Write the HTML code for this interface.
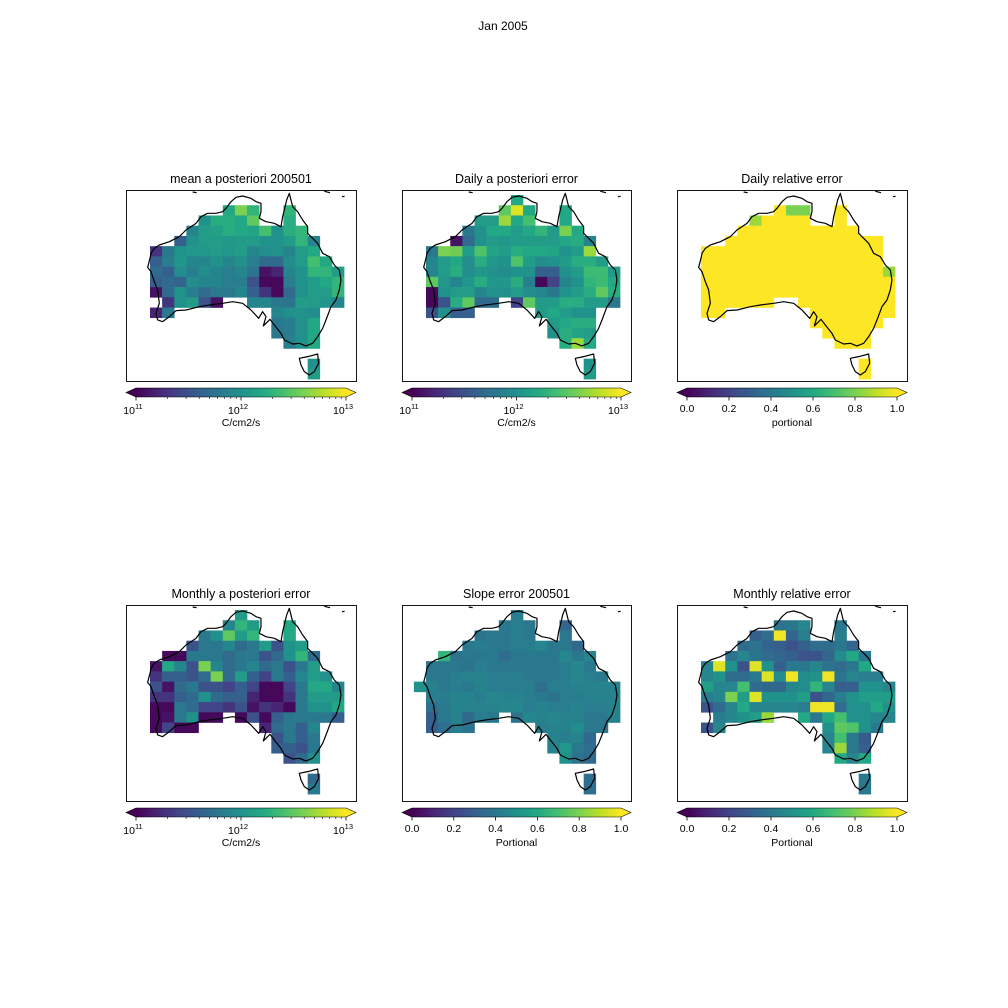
<!DOCTYPE html>
<html><head><meta charset="utf-8">
<style>
html,body{margin:0;padding:0;background:#fff;}
svg{display:block;font-family:"Liberation Sans","DejaVu Sans",sans-serif;}
</style></head>
<body>
<svg id="fig" width="1008" height="1008" viewBox="0 0 1008 1008" xmlns="http://www.w3.org/2000/svg">
<rect width="1008" height="1008" fill="#fff"/>
<text x="503" y="30" font-size="12" text-anchor="middle">Jan 2005</text>
<g id="root"></g>
</svg>
<script>
const meanPost = [
[],
[6,12.2,12.6,12.3,null,null,12.3],
[4,12.0,12.24,12.24,12.2,12.5,null,null,12.24],
[3,11.9,12.1,12.14,12.24,12.2,12.16,12.4,12.0,12.24,12.3],
[2,11.6,12.0,12.1,12.1,12.06,12.1,12.1,12.0,12.0,12.1,12.3,11.9],
[0,11.3,11.8,12.0,12.04,12.04,12.1,12.04,12.1,11.9,11.96,12.0,11.9,12.1,12.2],
[0,11.6,11.84,12.04,11.9,11.9,12.0,11.9,12.0,11.84,11.7,11.7,11.96,12.1,12.4,12.2],
[0,11.7,11.6,11.96,11.84,11.96,11.9,11.84,11.9,11.76,11.1,11.2,11.9,12.0,12.3,12.3,12.1],
[0,11.6,11.7,11.64,11.96,11.9,11.9,11.84,11.84,11.5,11.04,11.04,11.84,12.0,12.1,12.2,12.3],
[0,11.1,11.7,12.0,11.84,11.7,11.8,11.8,11.9,11.6,11.3,11.04,11.7,12.0,12.1,12.1,12.3],
[1,11.3,12.0,12.1,11.5,11.1,null,null,11.9,11.9,11.8,11.76,12.1,12.1,12.04,11.9],
[0,11.2,11.8,null,null,null,null,null,null,null,null,11.9,12.0,12.0,11.96],
[10,11.8,11.84,12.0,12.2],
[10,11.8,11.84,12.0,12.2],
[11,11.84,12.0,12.2],
[],
[13,12.0],
[13,12.1]
];
const dailyErr = [
[7,12.2],
[6,12.5,12.9,12.2,null,null,12.2],
[4,12.1,12.1,12.7,12.2,12.4,null,null,12.2],
[3,11.8,12.0,12.2,12.2,12.1,12.2,12.3,12.1,12.6,12.2],
[2,11.1,11.7,12.0,12.1,12.04,12.1,12.1,12.1,12.1,12.2,12.24,11.9],
[0,11.8,12.6,12.56,12.1,12.44,12.16,12.1,12.24,12.2,12.2,12.16,12.0,12.1,12.7],
[0,11.9,12.1,12.2,11.96,12.24,12.04,12.0,12.44,12.1,11.96,12.0,12.1,12.24,12.24,12.1],
[0,11.9,12.1,12.24,11.96,12.04,12.0,11.96,12.0,12.0,11.6,11.6,12.0,12.1,12.36,12.36,12.1],
[0,12.5,12.04,11.9,12.04,12.24,12.04,12.04,12.24,11.84,11.04,11.4,11.9,12.0,12.3,12.36,12.2],
[0,11.04,12.0,12.1,12.1,11.9,12.0,12.0,12.1,11.96,11.9,11.8,12.0,12.1,12.24,12.5,12.24],
[0,11.04,11.5,12.24,12.5,11.7,11.7,null,11.4,12.5,12.1,12.1,12.24,12.24,12.1,12.1,11.8],
[0,11.5,12.0,11.6,11.6,null,null,null,null,null,12.1,12.2,12.1,12.0,12.0],
[10,12.1,12.2,12.24,12.24],
[10,12.0,12.24,12.16,12.1],
[11,12.24,12.7,12.2],
[],
[13,12.0],
[13,12.1]
];
const dailyRel = [
[],
[6,1,0.8,0.8,null,null,1],
[4,0.85,1,1,1,1,null,null,1],
[3,1,1,1,1,1,1,1,1,1,1],
[2,1,1,1,1,1,1,1,1,1,1,1,1,1],
[0,1,1,1,1,1,1,1,1,1,1,1,1,1,1,1],
[0,1,1,1,1,1,1,1,1,1,1,1,1,1,1,1],
[0,1,1,1,1,1,1,1,1,1,1,1,1,1,1,1,0.85],
[0,1,1,1,1,1,1,1,1,1,1,1,1,1,1,1,1],
[0,1,1,1,1,1,1,1,1,1,1,1,1,1,1,1,1],
[0,1,1,1,1,1,1,null,null,1,1,1,1,1,1,1,1],
[0,1,1,null,null,null,null,null,null,null,1,1,1,1,1,1,1],
[9,1,1,1,1,1,1],
[10,1,1,1,1],
[11,1,1,1],
[],
[13,1],
[13,1]
];
const monthlyErr = [
[7,12.1],
[6,11.9,12.3,12.1,null,null,12.2],
[4,11.8,12.0,12.5,12.1,12.3,null,null,12.2],
[3,11.5,11.8,11.8,11.9,11.7,11.8,12.1,11.5,12.0,12.1],
[1,11.04,11.04,11.8,11.8,11.8,11.7,11.8,11.8,11.5,11.7,12.0,12.3,11.7],
[0,11.1,12.2,11.9,11.5,12.6,11.9,11.7,11.8,11.9,11.7,11.8,11.5,11.8,12.1],
[0,11.3,11.6,11.6,11.5,11.7,12.6,11.7,12.1,11.6,11.4,11.8,11.6,11.9,12.1,12.0],
[0,11.5,11.1,11.7,11.8,11.5,11.5,11.4,11.6,11.4,11.04,11.04,11.4,11.8,12.2,12.2,11.9],
[0,11.3,11.3,11.6,11.7,12.0,11.7,11.6,11.6,11.2,11.04,11.04,11.3,11.8,12.1,12.1,12.1],
[0,11.04,11.04,11.8,11.7,11.4,11.4,11.3,11.5,11.1,11.3,11.2,11.04,11.8,12.0,12.0,12.2],
[0,11.04,11.1,11.8,12.0,11.04,11.04,null,11.04,11.5,11.04,11.6,11.8,11.8,11.8,11.8,11.6],
[0,11.04,11.4,11.04,11.04,null,null,null,null,null,11.2,11.7,11.8,11.6,11.9],
[10,11.5,11.8,11.6,11.8],
[10,11.6,11.6,11.5,11.8],
[11,11.5,11.7,12.0],
[],
[13,11.7],
[13,11.8]
];
const slopeErr = [
[7,0.42],
[6,0.4,0.42,0.4,null,null,0.33],
[4,0.38,0.4,0.4,0.42,0.4,null,null,0.4],
[3,0.4,0.42,0.4,0.4,0.42,0.42,0.45,0.4,0.4,0.34],
[1,0.65,0.38,0.4,0.4,0.4,0.35,0.4,0.4,0.4,0.4,0.46,0.4,0.45],
[0,0.4,0.4,0.4,0.38,0.42,0.4,0.4,0.4,0.4,0.4,0.4,0.42,0.45,0.4],
[0,0.4,0.4,0.42,0.44,0.44,0.42,0.42,0.42,0.4,0.4,0.4,0.42,0.45,0.42,0.4],
[-1,0.5,0.44,0.4,0.42,0.4,0.44,0.42,0.42,0.42,0.42,0.36,0.42,0.42,0.44,0.44,0.44,0.44],
[0,0.42,0.42,0.44,0.44,0.42,0.46,0.44,0.44,0.42,0.4,0.38,0.42,0.42,0.44,0.44,0.44],
[0,0.36,0.4,0.44,0.44,0.44,0.44,0.46,0.46,0.42,0.44,0.42,0.42,0.44,0.42,0.42,0.44],
[0,0.3,0.4,0.44,0.34,0.42,0.4,null,0.38,0.46,0.44,0.46,0.44,0.44,0.4,0.4,0.44],
[0,0.3,0.36,0.42,0.38,null,null,null,null,null,0.42,0.44,0.44,0.48,0.4,0.4],
[10,0.44,0.42,0.44,0.34],
[10,0.44,0.52,0.4,0.36],
[11,0.5,0.38,0.34],
[],
[13,0.36],
[13,0.36]
];
const monthlyRel = [
[],
[6,0.38,0.4,0.45,null,null,0.4],
[4,0.3,0.35,0.98,0.32,0.42,null,null,0.42],
[3,0.35,0.38,0.32,0.3,0.25,0.3,0.35,0.35,0.4,0.33],
[2,0.38,0.45,0.38,0.35,0.33,0.3,0.25,0.25,0.33,0.48,0.6,0.4],
[0,0.45,0.95,0.5,0.25,0.95,0.5,0.3,0.4,0.4,0.45,0.38,0.35,0.4,0.6],
[0,0.45,0.5,0.35,0.35,0.4,0.95,0.48,0.98,0.48,0.5,0.98,0.38,0.45,0.42,0.42],
[0,0.55,0.45,0.45,0.7,0.35,0.33,0.33,0.45,0.48,0.65,0.45,0.3,0.3,0.5,0.5,0.45],
[0,0.42,0.45,0.8,0.55,0.95,0.5,0.5,0.5,0.55,0.25,0.33,0.42,0.5,0.55,0.55,0.55],
[0,0.25,0.35,0.45,0.6,0.45,0.45,0.45,0.45,0.42,0.98,0.98,0.35,0.5,0.5,0.6,0.5],
[0,null,0.42,0.45,0.5,0.55,0.85,null,null,0.6,0.4,0.6,0.7,0.5,0.5,0.45,0.45],
[0,0.25,0.45,null,null,null,null,null,null,null,null,0.5,0.75,0.72,0.5,0.4],
[10,0.45,0.7,0.4,0.28],
[10,0.45,0.85,0.4,0.3],
[11,0.6,0.45,0.6],
[],
[13,0.4],
[13,0.4]
];
const panelTitles = ["mean a posteriori 200501","Daily a posteriori error","Daily relative error","Monthly a posteriori error","Slope error 200501","Monthly relative error"];
const cbLabels = ["C/cm2/s","C/cm2/s","portional","C/cm2/s","Portional","Portional"];
const linTicks = ["0.0","0.2","0.4","0.6","0.8","1.0"];
const logTickExps = [11,12,13];

const VIR = ["#440154","#482475","#414487","#355f8d","#2a788e","#21918c","#22a884","#44bf70","#7ad151","#bddf26","#fde725"];
function hex(h){return [1,3,5].map(i=>parseInt(h.substr(i,2),16));}
function viridis(t){t=Math.max(0,Math.min(1,t));const p=t*(VIR.length-1);const i=Math.min(Math.floor(p),VIR.length-2);const f=p-i;const a=hex(VIR[i]),b=hex(VIR[i+1]);return "rgb("+a.map((v,k)=>Math.round(v+(b[k]-v)*f)).join(",")+")";}

const NS="http://www.w3.org/2000/svg";
const root=document.getElementById("root");
function mk(tag,attrs,parent){const e=document.createElementNS(NS,tag);for(const k in attrs)e.setAttribute(k,attrs[k]);(parent||root).appendChild(e);return e;}

const panels=[
 {x:126,y:190,w:230,h:191,data:meanPost,log:true},
 {x:402,y:190,w:229,h:191,data:dailyErr,log:true},
 {x:677,y:190,w:230,h:191,data:dailyRel,log:false},
 {x:126,y:605,w:230,h:196,data:monthlyErr,log:true},
 {x:402,y:605,w:229,h:196,data:slopeErr,log:false},
 {x:677,y:605,w:230,h:196,data:monthlyRel,log:false}
];
const CW=12.13, CH=10.23;
const coast="M490,10 L500,50 L515,65 L530,90 L545,110 L545,130 L575,160 L590,190 L610,200 L625,225 L640,240 L645,270 L640,300 L630,330 L615,350 L600,390 L590,415 L575,440 L560,460 L540,468 L520,460 L500,462 L475,450 L465,430 L445,405 L432,388 L425,395 L412,408 L420,380 L410,365 L398,385 L375,360 L350,340 L320,335 L290,340 L250,345 L220,350 L180,360 L150,362 L130,380 L110,395 L95,390 L90,370 L100,340 L95,300 L85,275 L75,245 L65,232 L72,205 L75,190 L85,175 L100,165 L130,155 L160,140 L180,120 L210,100 L225,80 L245,70 L270,70 L290,65 L300,55 L315,35 L330,22 L350,18 L375,25 L390,35 L405,40 L405,65 L400,85 L420,95 L445,100 L465,110 L470,80 L475,60 L482,30 Z M520,505 L545,500 L575,492 L578,520 L565,545 L550,555 L535,545 L525,525 Z M595,4 L612,8 M200,6 L212,8 M648,20 L656,19";

panels.forEach((p,pi)=>{
  const g=mk("g",{});
  
  
  const t=mk("text",{x:p.x+p.w/2,y:p.y-7,"font-size":"12.5","text-anchor":"middle"},g);
  t.textContent=panelTitles[pi];
  
  
  const cells=mk("g",{},g);
  
  
  const norm=v=>p.log?(v-11)/2:v;
  p.data.forEach((row,r)=>{
    if(!row.length)return;
    const c0=row[0];
    for(let i=1;i<row.length;i++){
      const v=row[i]; if(v===null)continue;
      const c=c0+i-1;
      const rc=mk("rect",{x:(p.x+24+c*CW).toFixed(2),y:(p.y+5+r*CH).toFixed(2),width:(CW+0.3).toFixed(2),height:(CH+0.3).toFixed(2),fill:viridis(norm(v))},cells);
      
      
    }
  });
  const cl=mk("path",{d:coast,fill:"none",stroke:"#000","stroke-width":"3.6","stroke-linejoin":"round",transform:"translate("+p.x+","+p.y+") scale(0.3333)"},g);
  
  
  const fr=mk("rect",{x:p.x+0.5,y:p.y+0.5,width:p.w,height:p.h,fill:"none",stroke:"#000","stroke-width":"0.9"},g);
  
  
  const cy=p.y+p.h+7, ch=9, bx0=p.x+10, bx1=p.x+p.w-10;
  const cb=mk("g",{},g);
  
  
  const gid="grad"+pi;
  const gr=mk("linearGradient",{id:gid,x1:"0",x2:"1",y1:"0",y2:"0"},cb);
  VIR.forEach((c,i)=>mk("stop",{offset:(i/(VIR.length-1)),"stop-color":c},gr));
  mk("rect",{x:bx0,y:cy,width:bx1-bx0,height:ch,fill:"url(#"+gid+")"},cb);
  mk("polygon",{points:bx0+","+cy+" "+p.x+","+(cy+ch/2)+" "+bx0+","+(cy+ch),fill:VIR[0]},cb);
  mk("polygon",{points:bx1+","+cy+" "+(p.x+p.w)+","+(cy+ch/2)+" "+bx1+","+(cy+ch),fill:VIR[VIR.length-1]},cb);
  mk("polygon",{points:bx0+","+cy+" "+bx1+","+cy+" "+(p.x+p.w)+","+(cy+ch/2)+" "+bx1+","+(cy+ch)+" "+bx0+","+(cy+ch)+" "+p.x+","+(cy+ch/2),fill:"none",stroke:"#000","stroke-width":"0.6"},cb);
  const ty=cy+ch;
  if(p.log){
    const sx=e=>bx0+(e-11)/2*(bx1-bx0);
    for(let d=11;d<13;d++)for(let m=2;m<10;m++){mk("line",{x1:sx(d+Math.log10(m)),x2:sx(d+Math.log10(m)),y1:ty,y2:ty+2,stroke:"#000","stroke-width":"0.6"},cb);}
    logTickExps.forEach(e=>{
      mk("line",{x1:sx(e),x2:sx(e),y1:ty,y2:ty+3.5,stroke:"#000","stroke-width":"0.8"},cb);
      const tx=mk("text",{x:sx(e)-3,y:ty+17,"font-size":"10.5","text-anchor":"middle"},cb);
      tx.textContent="10";
      const sp=mk("tspan",{dy:"-5","font-size":"7.5"},tx);sp.textContent=String(e);
      
      
    });
  } else {
    linTicks.forEach(s=>{
      const x=bx0+parseFloat(s)*(bx1-bx0);
      mk("line",{x1:x,x2:x,y1:ty,y2:ty+3.5,stroke:"#000","stroke-width":"0.8"},cb);
      const tx=mk("text",{x:x,y:ty+15,"font-size":"10.5","text-anchor":"middle"},cb);
      tx.textContent=s;
      
      
    });
  }
  const lb=mk("text",{x:(bx0+bx1)/2,y:ty+29,"font-size":"10.5","text-anchor":"middle"},cb);
  lb.textContent=cbLabels[pi];
  
  
});
</script>
</body></html>
